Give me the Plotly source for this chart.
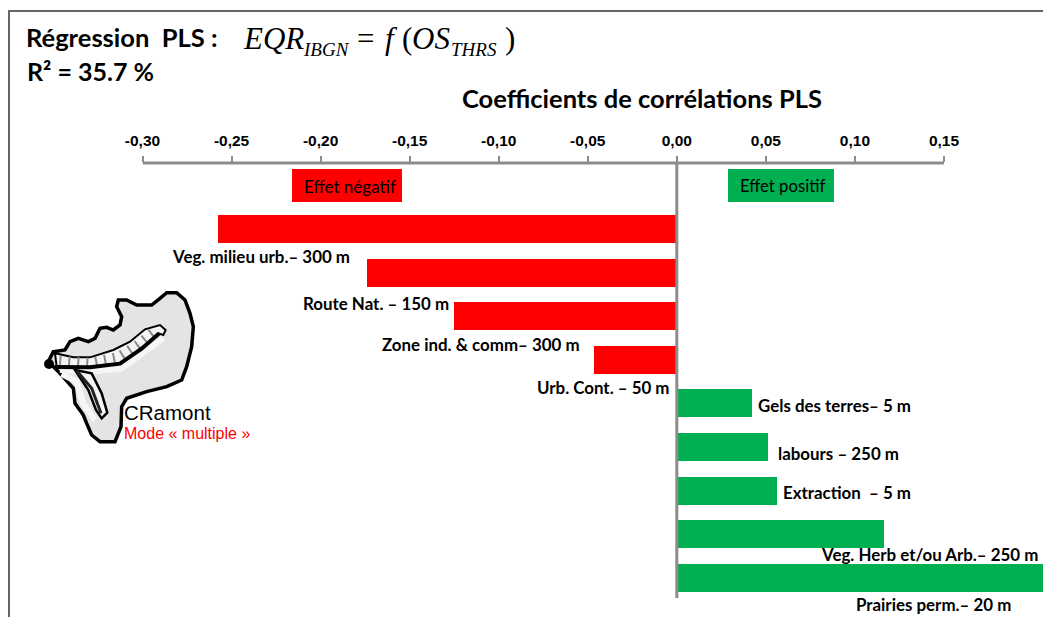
import plotly.graph_objects as go

W, H = 1043, 617

categories = ["Veg. milieu urb.– 300 m", "Route Nat. – 150 m", "Zone ind. & comm– 300 m", "Urb. Cont. – 50 m",
              "Gels des terres– 5 m", "labours – 250 m", "Extraction  – 5 m",
              "Veg. Herb et/ou Arb.– 250 m", "Prairies perm.– 20 m"]
coefficients = [-0.258, -0.1745, -0.1255, -0.047, 0.042, 0.051, 0.056, 0.116, 0.21]
tick_values = [-0.30, -0.25, -0.20, -0.15, -0.10, -0.05, 0.00, 0.05, 0.10, 0.15]
tick_labels = ["-0,30", "-0,25", "-0,20", "-0,15", "-0,10", "-0,05", "0,00", "0,05", "0,10", "0,15"]
label_left = [172, 303, 382, 537, 758, 778, 783, 821, 856]
label_y = [256, 303, 344, 387, 405, 453, 492, 554, 604]

RED, GREEN, GRAY = "#ff0000", "#00b050", "#8c8c8c"
CAL = "Lato, 'Open Sans', sans-serif"
ARIAL = "'Liberation Sans', Arial, sans-serif"
SERIF = "'Liberation Serif', serif"

fig = go.Figure()
fig.add_trace(go.Bar(
    y=list(range(len(categories))), x=coefficients, orientation="h",
    marker=dict(color=[RED if v < 0 else GREEN for v in coefficients], line_width=0),
    width=28 / 43.6, hoverinfo="skip", showlegend=False,
))
# Empty trace that keeps the full-page overlay subplot alive for text and drawing
fig.add_trace(go.Scatter(x=[], y=[], xaxis="x2", yaxis="y2", hoverinfo="skip", showlegend=False))


def note(x, y, text, size, color="black", family=CAL, bold=False, xanchor="left"):
    fig.add_annotation(xref="x2", yref="y2", x=x, y=y, text=f"<b>{text}</b>" if bold else text,
                       showarrow=False, xanchor=xanchor, yanchor="middle", align="left",
                       font=dict(size=size, color=color, family=family), borderpad=0, borderwidth=0)


def rect(x0, y0, x1, y1, color):
    fig.add_shape(type="rect", xref="x2", yref="y2", x0=x0, x1=x1, y0=y0, y1=y1,
                  fillcolor=color, line_width=0)


def seg(x0, y0, x1, y1, color="#666666", width=2):
    fig.add_shape(type="line", xref="x2", yref="y2", x0=x0, x1=x1, y0=y0, y1=y1,
                  line=dict(color=color, width=width))


def path(points, close=False, fill=None, color="black", width=3, dash=None):
    xy = [(a / 3 + 20, b / 3 + 270) for a, b in points]
    d = "M " + " L ".join(f"{a:.2f},{b:.2f}" for a, b in xy) + (" Z" if close else "")
    fig.add_shape(type="path", xref="x2", yref="y2", path=d,
                  fillcolor=fill if fill else "rgba(0,0,0,0)",
                  line=dict(color=color, width=width, dash=dash))


# Frame
seg(8, 11, 1043, 11)
seg(9, 10, 9, 617)

# Axis line limited to the labelled span, and vertical zero line
fig.add_shape(type="line", xref="x", yref="y2", x0=-0.30, x1=0.15, y0=163, y1=163, line=dict(color=GRAY, width=3))
fig.add_shape(type="line", xref="x", yref="y2", x0=0, x1=0, y0=163, y1=598, line=dict(color=GRAY, width=3))

# Effect boxes
rect(292, 169, 402, 202, RED)
rect(728, 169, 834, 202, GREEN)
note(349.5, 186, "Effet négatif", 17, xanchor="center")
note(782, 186, "Effet positif", 16.7, xanchor="center")

# Titles
note(26, 37, "Régression  PLS :", 25.5, bold=True)
note(27, 71, "R² = 35.7 %", 25, bold=True)
note(462, 98, "Coefficients de corrélations PLS", 25.5, bold=True)
note(243, 38, "<i>EQR</i>", 31, family=SERIF)
note(303, 49, "<i>IBGN</i>", 19, family=SERIF)
note(357, 38, "=", 31, family=SERIF)
note(385, 38, "<i>f</i>", 31, family=SERIF)
note(402, 38, "(", 31, family=SERIF)
note(412, 38, "<i>OS</i>", 31, family=SERIF)
note(451, 49, "<i>THRS</i>", 19, family=SERIF)
note(505, 38, ")", 31, family=SERIF)

# Bar labels
for name, x, y in zip(categories, label_left, label_y):
    note(x, y, name, 16.9, bold=True)

# Small map of the basin
outline = [(100, 245), (135, 240), (150, 215), (175, 205), (205, 215), (225, 205), (240, 175), (260, 172), (280, 180),
           (300, 165), (305, 140), (290, 110), (295, 90), (320, 90), (350, 105), (395, 105), (420, 85), (440, 68),
           (470, 68), (495, 90), (510, 130), (520, 170), (515, 230), (500, 290), (485, 330), (440, 350), (380, 365),
           (320, 385), (305, 410), (303, 470), (285, 515), (240, 515), (215, 495), (200, 460), (190, 435), (165, 400),
           (160, 355), (120, 310), (95, 285), (85, 275)]
path(outline, close=True, fill="#e4e4e4", width=3.5)
# pale borders beside the valleys
path([(120, 300), (215, 305), (305, 295), (360, 255), (430, 205)], color="#f6f6f6", width=6)
path([(125, 312), (170, 335), (190, 400), (225, 450)], color="#f6f6f6", width=6)
# side valley
branch_band = [(165, 300), (215, 310), (245, 370), (262, 428), (245, 445), (228, 420), (205, 360)]
path(branch_band, close=True, fill="#f4f4f4", width=2.5)
path([(170, 302), (215, 355), (243, 430)], color="#222222", width=3)
# main valley
main_band = [(105, 250), (160, 262), (210, 262), (280, 240), (330, 215), (375, 178), (420, 165), (437, 180), (430, 195),
             (415, 190), (365, 235), (300, 280), (210, 292), (110, 290)]
path(main_band, close=True, fill="#f4f4f4", width=2)
path([(118, 271), (210, 277), (295, 260), (350, 225), (410, 178)], color="#8a8a8a", width=9, dash="2px,7px")
path([(105, 291), (210, 292), (300, 281), (365, 236), (418, 190)], color="black", width=4)
# outlet point
fig.add_shape(type="circle", xref="x2", yref="y2", x0=44, x1=54, y0=359, y1=369, fillcolor="black", line_width=0)
note(124, 412.5, "CRamont", 20.5, family=ARIAL)
note(124, 433, "Mode « multiple »", 16, color=RED, family=ARIAL)

fig.update_layout(
    width=W, height=H, autosize=False, margin=dict(l=0, r=0, t=0, b=0, autoexpand=False),
    paper_bgcolor="white", plot_bgcolor="rgba(0,0,0,0)", showlegend=False, bargap=0,
    xaxis=dict(domain=[142.5 / W, 1], range=[-0.30, 0.2056], side="top", anchor="y",
               tickmode="array", tickvals=tick_values, ticktext=[f"<b>{t}</b>" for t in tick_labels],
               tickfont=dict(size=15.5, family=ARIAL, color="black"), ticks="outside", ticklen=6, tickwidth=2,
               tickcolor=GRAY, ticklabelstandoff=4, showgrid=False, showline=False, zeroline=False, automargin=False),
    yaxis=dict(domain=[1 - 598 / H, 1 - 163 / H], range=[8.46, -1.51], visible=False, showgrid=False, zeroline=False),
    xaxis2=dict(domain=[0, 1], range=[0, W], visible=False, anchor="y2", fixedrange=True),
    yaxis2=dict(domain=[0, 1], range=[H, 0], visible=False, anchor="x2", fixedrange=True),
)

fig.write_html("out.html", post_script="document.body.style.margin='0';", config={"displayModeBar": False})
